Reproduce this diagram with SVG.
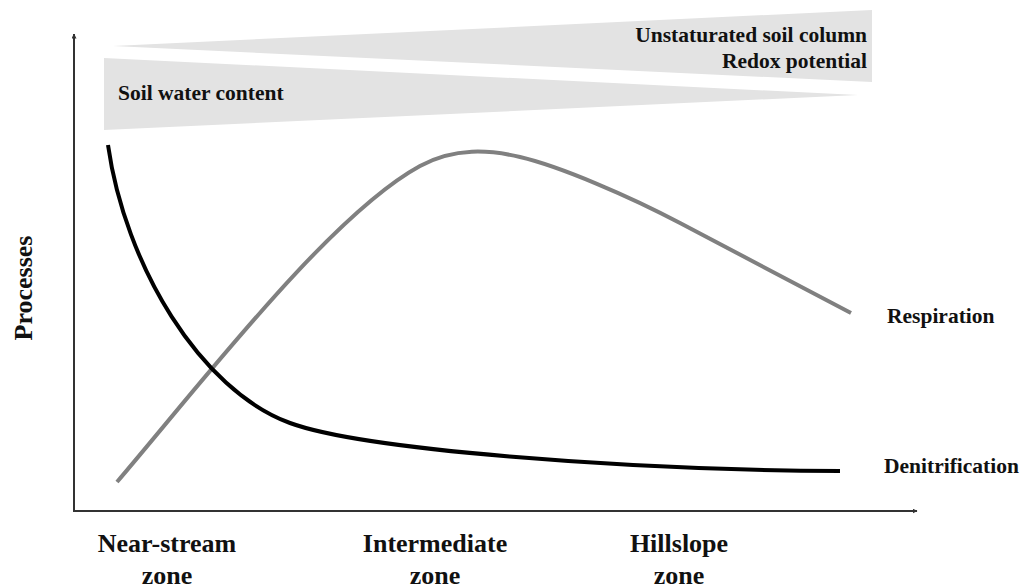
<svg xmlns="http://www.w3.org/2000/svg" width="1025" height="588" viewBox="0 0 1025 588">
<style>
.t{font-family:"Liberation Serif","Times New Roman",Times,serif;font-weight:bold;fill:#111}
.s{font-size:21.5px}
.z{font-size:26px;text-anchor:middle}
.ax{stroke:#333;stroke-width:2;fill:none}
.wedge{fill:#e3e3e3}
</style>
<defs>
<marker id="ah" viewBox="0 0 10 10" refX="9" refY="5" markerWidth="5" markerHeight="5" orient="auto" markerUnits="userSpaceOnUse">
<path d="M0,0 L10,5 L0,10 z" fill="#333"/>
</marker>
</defs>
<rect width="1025" height="588" fill="#fff"/>
<g id="wedges">
<polygon class="wedge" points="113,46 872,10 872,82"/>
<polygon class="wedge" points="104,58 858,95 104,130"/>
</g>
<g id="axes">
<path class="ax" d="M74,511 L74,34" marker-end="url(#ah)"/>
<path class="ax" d="M73,511 L917,511" marker-end="url(#ah)"/>
</g>
<g id="connectors">
<path id="respiration-curve" d="M117,482 C200,385 330,215 420,166 C455,147 490,150 520,157 C560,166.3 630,196.5 680,223 L851,313" stroke="#808080" stroke-width="4" fill="none"/>
<path id="denitrification-curve" d="M108,145 C125,265 200,390 290,423 C362,449.4 620,470 840,471" stroke="#000" stroke-width="4" fill="none"/>
</g>
<g id="labels">
<text class="t s" x="118" y="100">Soil water content</text>
<text class="t s" x="867" y="42" text-anchor="end">Unstaturated soil column</text>
<text class="t s" x="867" y="68" text-anchor="end">Redox potential</text>
<text class="t s" x="887" y="323">Respiration</text>
<text class="t s" x="884" y="473">Denitrification</text>
<text class="t z" transform="translate(32,288) rotate(-90)" x="0" y="0">Processes</text>
<text class="t z" x="167" y="552">Near-stream</text>
<text class="t z" x="167" y="584">zone</text>
<text class="t z" x="435" y="552">Intermediate</text>
<text class="t z" x="435" y="584">zone</text>
<text class="t z" x="679" y="552">Hillslope</text>
<text class="t z" x="679" y="584">zone</text>
</g>
</svg>
